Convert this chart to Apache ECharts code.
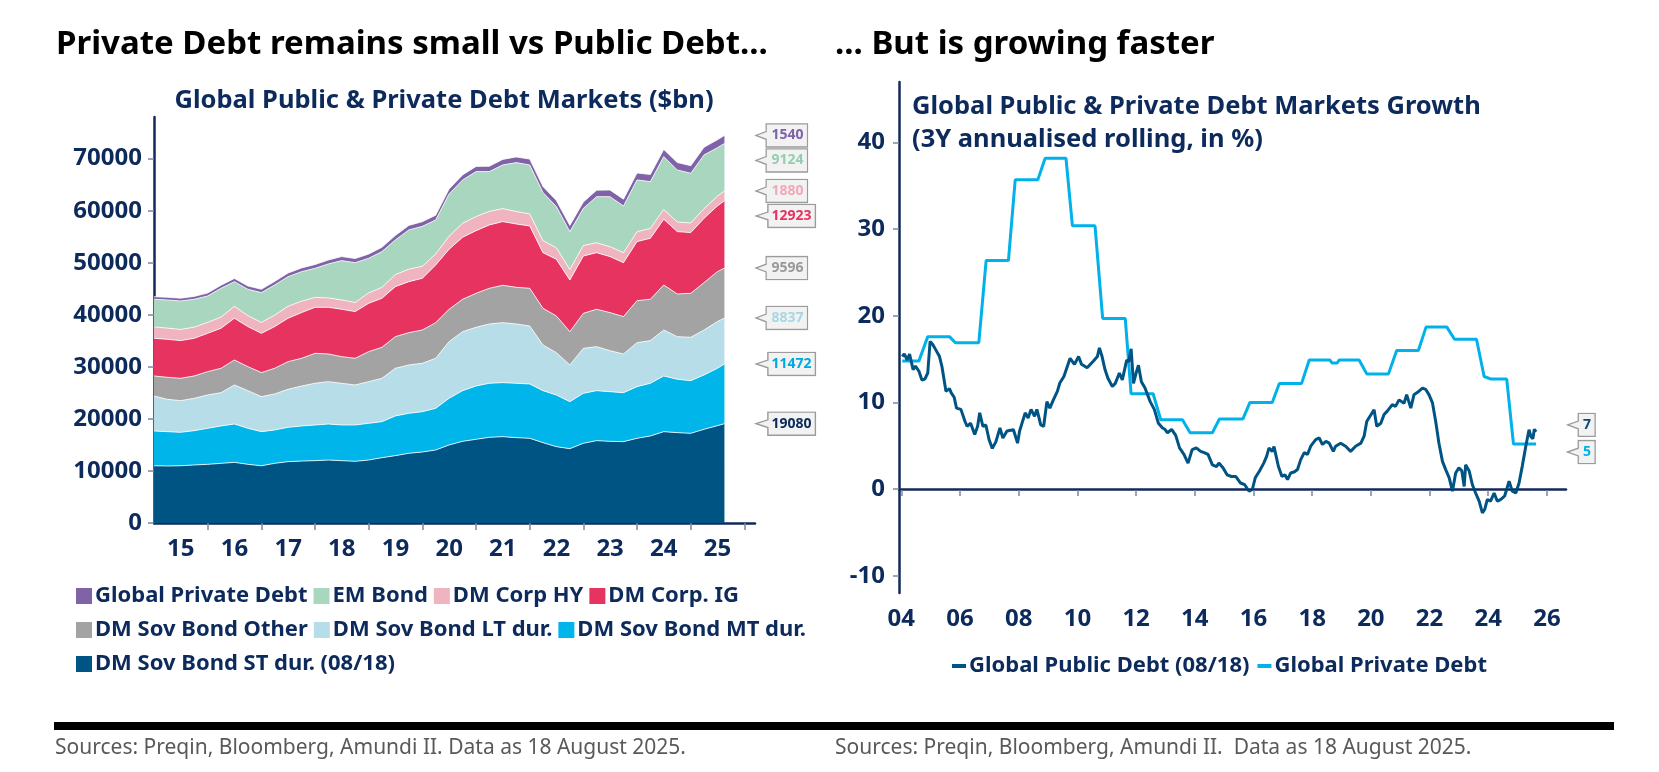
<!DOCTYPE html>
<html>
<head>
<meta charset="utf-8">
<title>Public vs Private Debt</title>
<script src="https://cdn.jsdelivr.net/npm/echarts@6/dist/echarts.min.js"></script>
<style>
html,body{margin:0;padding:0;background:#fff;}
#main{width:1659px;height:772px;}
</style>
</head>
<body>
<div id="main"></div>
<script>
// ---- left chart : stacked debt markets ($bn), quarterly read-off ----
var leftDates = ['2015-01-01','2015-04-01','2015-07-01','2015-10-01','2016-01-01','2016-04-01','2016-07-01','2016-10-01',
	'2017-01-01','2017-04-01','2017-07-01','2017-10-01','2018-01-01','2018-04-01','2018-07-01','2018-10-01',
	'2019-01-01','2019-04-01','2019-07-01','2019-10-01','2020-01-01','2020-04-01','2020-07-01','2020-10-01',
	'2021-01-01','2021-04-01','2021-07-01','2021-10-01','2022-01-01','2022-04-01','2022-07-01','2022-10-01',
	'2023-01-01','2023-04-01','2023-07-01','2023-10-01','2024-01-01','2024-04-01','2024-07-01','2024-10-01',
	'2025-01-01','2025-04-01','2025-07-01','2025-08-18'];
var sovST = [11000,10950,11000,11150, 11270,11460,11650,11270, 11000,11460,11790,11900, 11980,12100,11980,11850,
	12100,12550,12940,13390, 13640,14030,14990,15690, 16080,16460,16590,16400, 16270,15440,14670,14280,
	15310,15820,15690,15630, 16270,16720,17550,17360, 17230,18000,18700,19080];
var sovMT = [6680,6600,6420,6590, 6920,7180,7370,6920, 6550,6410,6590,6740, 6850,6920,6850,6980,
	7050,6920,7620,7680, 7750,8000,8960,9740, 10240,10380,10380,10440, 10440,9990,9920,9030,
	9600,9610,9540,9410, 9930,10120,10700,10250, 10120,10440,11020,11472];
var sovLT = [6720,6210,6090,6210, 6410,6400,7500,7240, 6730,6920,7300,7680, 8010,8140,8010,7690,
	8010,8330,9160,9290, 9290,9610,10890,11330, 11280,11400,11520,11400, 11140,8770,8140,7050,
	8650,8450,7880,7430, 8450,8200,8830,8190, 8330,8640,8970,8837];
var sovOther = [3850,4230,4290,4300, 4480,4680,4800,4610, 4610,4930,5320,5320, 5760,5310,5120,5120,
	5760,5950,6080,6210, 6400,6850,6220,6220, 6530,6850,7180,7040, 7240,7050,7050,6400,
	6730,7180,7310,7180, 8070,7940,8650,8200, 8450,9100,9600,9596];
var corpIG = [7230,7300,7240,7230, 7360,7690,8010,7690, 7550,8010,8330,8780, 8840,8970,9100,8970,
	9290,9420,9610,9800, 9930,11080,11520,11910, 12040,12170,12230,12170, 11980,10690,10880,9930,
	11010,10880,10760,10370, 11340,11720,12620,11980, 11660,12360,12620,12923];
var corpHY = [2200,2150,2150,2150, 2100,2150,2300,2100, 2100,2200,2300,2200, 1900,1800,1800,1750,
	2000,2100,2300,2400, 2300,2100,2500,2700, 2700,2600,2500,2400, 2300,2300,2200,2000,
	2000,1900,1900,1900, 1900,1900,1900,1850, 1850,1850,1870,1880];
var emBond = [5300,5410,5470,5350, 5080,5530,4740,5070, 5720,5800,5700,5670, 5590,6530,7550,7660,
	6650,6870,6670,7530, 7690,6550,8140,8320, 8640,7650,8390,9390, 9420,9260,7940,7290,
	7160,8860,9620,8990, 9950,8990,10140,10000, 9550,10320,9320,9124];
var privDebt = [500,515,530,550, 570,590,610,630, 650,670,690,710, 730,750,770,790,
	810,830,850,870, 890,910,940,970, 1000,1030,1060,1090, 1120,1140,1160,1180,
	1210,1240,1270,1300, 1330,1360,1390,1420, 1450,1480,1510,1540];

var leftYearTicks = [2016,2017,2018,2019,2020,2021,2022,2023,2024,2025,2026];
var leftYearPos = [2015.5,2016.5,2017.5,2018.5,2019.5,2020.5,2021.5,2022.5,2023.5,2024.5,2025.5];
var leftYearLabels = ['15','16','17','18','19','20','21','22','23','24','25'];
var leftYTicks = [0,10000,20000,30000,40000,50000,60000,70000];

// ---- right chart : 3Y annualised growth (%) ----
var pubX = [2004.03,2004.1,2004.2,2004.28,2004.4,2004.48,2004.6,2004.7,2004.8,2004.9,2004.98,2005.07,2005.17,2005.3,
	2005.38,2005.52,2005.64,2005.7,2005.8,2005.88,2006.03,2006.17,2006.24,2006.36,2006.5,2006.6,2006.67,2006.78,
	2006.88,2006.99,2007.1,2007.22,2007.36,2007.46,2007.6,2007.82,2007.96,2008.03,2008.22,2008.32,2008.42,2008.54,
	2008.62,2008.75,2008.85,2008.96,2009.06,2009.18,2009.32,2009.4,2009.54,2009.75,2009.9,2010.04,2010.14,2010.33,
	2010.54,2010.68,2010.75,2010.84,2010.94,2011.04,2011.19,2011.29,2011.43,2011.53,2011.68,2011.75,2011.83,2011.91,
	2012.0,2012.08,2012.18,2012.3,2012.48,2012.62,2012.76,2012.9,2012.98,2013.07,2013.21,2013.35,2013.48,2013.63,
	2013.77,2013.91,2014.05,2014.2,2014.32,2014.45,2014.6,2014.74,2014.82,2014.96,2015.1,2015.25,2015.4,2015.56,
	2015.7,2015.85,2015.96,2016.06,2016.2,2016.35,2016.45,2016.53,2016.64,2016.7,2016.85,2016.97,2017.07,2017.16,
	2017.27,2017.4,2017.5,2017.61,2017.73,2017.84,2017.95,2018.12,2018.24,2018.35,2018.47,2018.58,2018.72,2018.8,
	2018.97,2019.14,2019.31,2019.48,2019.66,2019.77,2019.86,2019.97,2020.11,2020.2,2020.34,2020.45,2020.56,2020.73,
	2020.84,2020.96,2021.13,2021.22,2021.36,2021.47,2021.64,2021.76,2021.87,2021.98,2022.1,2022.21,2022.32,2022.44,
	2022.55,2022.67,2022.78,2022.89,2023.0,2023.1,2023.18,2023.23,2023.35,2023.46,2023.57,2023.69,2023.8,2023.88,
	2023.97,2024.08,2024.2,2024.31,2024.43,2024.56,2024.71,2024.82,2024.94,2025.05,2025.16,2025.28,2025.39,2025.45,
	2025.52,2025.57,2025.63];
var pubY = [15.3,15.6,14.9,15.6,13.8,14.2,13.6,12.6,12.7,13.4,17.05,16.7,16.1,15.3,
	14.2,11.3,11.6,11.1,10.6,9.35,9.2,7.8,7.25,7.6,6.3,7.25,8.8,7.25,
	7.4,5.7,4.7,5.45,7.05,5.9,6.7,6.85,5.3,6.7,8.8,8.2,9.2,8.4,
	9.2,7.4,7.25,10.1,9.35,10.3,11.3,12.25,13.0,15.1,14.4,15.3,14.4,14.0,
	14.75,15.3,16.3,15.3,13.8,12.8,11.85,12.2,13.4,12.6,14.9,14.7,16.2,12.2,
	13.4,14.3,12.4,11.7,10.1,9.2,7.6,7.05,6.9,6.5,6.9,6.2,4.75,4.0,
	3.0,4.55,4.75,4.35,4.2,4.0,2.8,2.6,3.0,2.45,1.65,1.45,1.45,0.7,
	0.5,-0.25,-0.05,1.3,2.05,3.0,3.8,4.75,4.35,4.9,2.6,1.45,1.65,1.1,
	1.86,2.0,2.25,3.4,4.2,4.0,4.95,5.7,5.9,5.15,5.5,5.3,4.35,4.95,
	5.3,4.95,4.35,4.95,5.3,6.1,7.8,8.4,9.15,7.25,7.6,8.6,9.0,9.75,
	9.55,10.3,9.9,10.9,9.35,10.9,11.3,11.65,11.5,10.9,9.95,7.8,5.3,3.2,
	2.25,1.3,-0.25,1.86,2.45,2.1,0.3,2.8,2.1,0.5,-0.45,-1.4,-2.75,-2.35,
	-1.2,-1.4,-0.45,-1.4,-1.2,-0.8,0.9,-0.25,-0.45,0.7,2.65,4.95,6.85,6.1,
	5.8,6.9,6.6];
var privX = [2004.03,2004.6,2004.9,2005.64,2005.84,2006.64,2006.89,2007.65,2007.88,2008.65,2008.9,2009.61,
	2009.83,2010.6,2010.86,2011.63,2011.83,2012.58,2012.84,2013.58,2013.84,2014.6,2014.84,2015.64,
	2015.88,2016.64,2016.88,2017.64,2017.9,2018.6,2018.68,2018.85,2018.92,2019.6,2019.86,2020.6,
	2020.88,2021.62,2021.88,2022.59,2022.85,2023.6,2023.86,2024.1,2024.63,2024.86,2025.63];
var privY = [14.8,14.8,17.6,17.6,16.9,16.9,26.4,26.4,35.7,35.7,38.2,38.2,
	30.4,30.4,19.7,19.7,11.0,11.0,8.0,8.0,6.5,6.5,8.1,8.1,
	10.0,10.0,12.2,12.2,14.9,14.9,14.55,14.55,14.9,14.9,13.3,13.3,
	16.0,16.0,18.7,18.7,17.3,17.3,13.0,12.7,12.7,5.2,5.2];

var rightYearTicks = [2004,2006,2008,2010,2012,2014,2016,2018,2020,2022,2024,2026];
var rightYearLabels = ['04','06','08','10','12','14','16','18','20','22','24','26'];
var rightYTicks = [-10,0,10,20,30,40];

// ---- styling ----
var navy = '#0c2a5b';
var font = '"Noto Sans", "Open Sans", sans-serif';
var layers = [
	{name:'DM Sov Bond ST dur. (08/18)', data:sovST, color:'#005483', text:'#0c2a5b'},
	{name:'DM Sov Bond MT dur.', data:sovMT, color:'#00b5ea', text:'#00a8de'},
	{name:'DM Sov Bond LT dur.', data:sovLT, color:'#b7dde9', text:'#a9d6e6'},
	{name:'DM Sov Bond Other', data:sovOther, color:'#a3a3a3', text:'#9a9a9a'},
	{name:'DM Corp. IG', data:corpIG, color:'#e6335f', text:'#e6335f'},
	{name:'DM Corp HY', data:corpHY, color:'#f0b4c1', text:'#f0a9b8'},
	{name:'EM Bond', data:emBond, color:'#a9d6bf', text:'#96cdb1'},
	{name:'Global Private Debt', data:privDebt, color:'#7f62a8', text:'#7f62a8'}
];
var pubColor = '#005483', privColor = '#00b1ea';

function callout(w){
	var svg = '<svg xmlns="http://www.w3.org/2000/svg" width="'+w+'" height="26" viewBox="0 0 '+w+' 26" preserveAspectRatio="none">'+
		'<path d="M13 1 H'+(w-1)+' V25 H13 V17 L1.5 13 L13 9 Z" fill="#f2f2f2" stroke="#9b9b9b" stroke-width="1.4"/></svg>';
	return 'data:image/svg+xml;charset=utf-8,' + encodeURIComponent(svg);
}
var boxWide = callout(60), boxNarrow = callout(32);

function endLabel(textColor, img, fmt, offsetY){
	return {
		show: true,
		distance: 30,
		offset: [0, offsetY || 0],
		formatter: fmt,
		color: textColor,
		fontFamily: font,
		fontWeight: 'bold',
		fontSize: 14,
		lineHeight: 16,
		padding: [5, 5, 4, 17],
		backgroundColor: {image: img}
	};
}

var series = [];
layers.forEach(function(l){
	series.push({
		name: l.name,
		type: 'line',
		xAxisIndex: 0, yAxisIndex: 0,
		stack: 'total',
		showSymbol: false,
		symbol: 'none',
		color: l.color,
		lineStyle: {color: '#ffffff', width: 0.8},
		areaStyle: {color: l.color, opacity: 1},
		data: leftDates.map(function(d, i){ return [d, l.data[i]]; }),
		endLabel: endLabel(l.text, boxWide, function(p){ return p.value[1]; }),
		labelLayout: {moveOverlap: 'shiftY'},
		silent: true
	});
});

series.push({
	name: 'Global Private Debt ',
	type: 'line',
	xAxisIndex: 2, yAxisIndex: 1,
	showSymbol: false, symbol: 'none',
	color: privColor,
	lineStyle: {color: privColor, width: 3},
	data: privX.map(function(x, i){ return [x, privY[i]]; }),
	endLabel: endLabel(privColor, boxNarrow, function(p){ return Math.round(p.value[1]); }, 8),
	z: 3
});
series.push({
	name: 'Global Public Debt (08/18)',
	type: 'line',
	xAxisIndex: 2, yAxisIndex: 1,
	showSymbol: false, symbol: 'none',
	color: pubColor,
	lineStyle: {color: pubColor, width: 3},
	data: pubX.map(function(x, i){ return [x, pubY[i]]; }),
	endLabel: endLabel('#0c4a78', boxNarrow, function(p){ return Math.round(p.value[1]); }, -7),
	markLine: {
		silent: true,
		symbol: ['none', 'none'],
		label: {show: false},
		lineStyle: {color: navy, width: 1, type: 'solid'},
		data: [{yAxis: 0}]
	},
	z: 4
});

var legendText = {color: navy, fontFamily: font, fontWeight: 'bold', fontSize: 22, padding: [0, 0, 0, -2]};

function legendRow(names, top){
	return {
		left: 71, top: top,
		orient: 'horizontal',
		icon: 'rect',
		itemWidth: 16, itemHeight: 16, itemGap: 6,
		selectedMode: false,
		textStyle: legendText,
		data: names.map(function(n){
			var l = layers.filter(function(x){ return x.name === n; })[0];
			return {name: n, itemStyle: {color: l.color}};
		})
	};
}

var axisLineStyle = {color: '#14295a', width: 2.5};
var tickStyle = {color: '#7a88a6', width: 1.5};
var labelStyle = {color: navy, fontFamily: font, fontWeight: 'bold', fontSize: 24};

var option = {
	animation: false,
	backgroundColor: '#ffffff',
	title: [
		{text: 'Private Debt remains small vs Public Debt...', left: 51, top: 23,
			textStyle: {color: '#000', fontFamily: font, fontWeight: 'bold', fontSize: 33}},
		{text: '... But is growing faster', left: 830, top: 23,
			textStyle: {color: '#000', fontFamily: font, fontWeight: 'bold', fontSize: 33}},
		{text: 'Global Public & Private Debt Markets ($bn)', left: 439, top: 83, textAlign: 'center',
			textStyle: {color: navy, fontFamily: font, fontWeight: 'bold', fontSize: 25.5}},
		{text: 'Global Public & Private Debt Markets Growth\n(3Y annualised rolling, in %)', left: 907, top: 85,
			textStyle: {color: navy, fontFamily: font, fontWeight: 'bold', fontSize: 25.5, lineHeight: 33}}
	],
	legend: [
		legendRow(['Global Private Debt', 'EM Bond', 'DM Corp HY', 'DM Corp. IG'], 580),
		legendRow(['DM Sov Bond Other', 'DM Sov Bond LT dur.', 'DM Sov Bond MT dur.'], 614),
		legendRow(['DM Sov Bond ST dur. (08/18)'], 648),
		{
			left: 947, top: 650,
			icon: 'rect',
			itemWidth: 14, itemHeight: 4, itemGap: 8,
			selectedMode: false,
			textStyle: legendText,
			data: [
				{name: 'Global Public Debt (08/18)', itemStyle: {color: pubColor}},
				{name: 'Global Private Debt ', itemStyle: {color: privColor}}
			]
		}
	],
	grid: [
		{left: 154, top: 117, width: 601, height: 406},
		{left: 899, top: 82, width: 667, height: 511}
	],
	xAxis: [
		{
			// time axis carrying the stacked areas (kept hidden)
			type: 'time', gridIndex: 0, position: 'top', min: '2015-01-01', max: '2026-03-14', show: false
		},
		{
			// same span in decimal years, only for the drawn axis, ticks and mid-year labels
			type: 'value', gridIndex: 0, position: 'bottom', min: 2015, max: 2026.2,
			axisLine: {lineStyle: axisLineStyle},
			axisTick: {show: true, length: 7, lineStyle: tickStyle, customValues: leftYearTicks},
			axisLabel: Object.assign({}, labelStyle, {
				margin: 14,
				customValues: leftYearPos,
				formatter: function(v){ return leftYearLabels[leftYearPos.indexOf(v)]; }
			}),
			splitLine: {show: false}
		},
		{
			type: 'value', gridIndex: 1, position: 'bottom', min: 2003.92, max: 2026.65,
			axisLine: {lineStyle: axisLineStyle},
			axisTick: {show: true, length: 7, lineStyle: tickStyle, customValues: rightYearTicks},
			axisLabel: Object.assign({}, labelStyle, {
				margin: 14,
				customValues: rightYearTicks,
				formatter: function(v){ return rightYearLabels[rightYearTicks.indexOf(Math.round(v))]; }
			}),
			splitLine: {show: false}
		}
	],
	yAxis: [
		{
			type: 'value', gridIndex: 0, min: 0, max: 78000,
			axisLine: {show: true, lineStyle: axisLineStyle},
			axisTick: {show: true, length: 6, lineStyle: tickStyle, customValues: leftYTicks},
			axisLabel: Object.assign({}, labelStyle, {margin: 12, customValues: leftYTicks,
				formatter: function(v){ return String(v); }}),
			splitLine: {show: false}
		},
		{
			type: 'value', gridIndex: 1, min: -12, max: 47,
			axisLine: {show: true, lineStyle: axisLineStyle},
			axisTick: {show: true, length: 6, lineStyle: tickStyle, customValues: rightYTicks},
			axisLabel: Object.assign({}, labelStyle, {margin: 14, customValues: rightYTicks}),
			splitLine: {show: false}
		}
	],
	graphic: [
		{type: 'rect', left: 54, top: 722, shape: {width: 1560, height: 8}, style: {fill: '#000'}},
		{type: 'text', left: 55, top: 738,
			style: {text: 'Sources: Preqin, Bloomberg, Amundi II. Data as 18 August 2025.', fill: '#595959',
				font: '21px "Noto Sans", sans-serif'}},
		{type: 'text', left: 835, top: 738,
			style: {text: 'Sources: Preqin, Bloomberg, Amundi II.  Data as 18 August 2025.', fill: '#595959',
				font: '21px "Noto Sans", sans-serif'}}
	],
	series: series
};

var myChart = echarts.init(document.getElementById('main'));
myChart.setOption(option);
</script>
</body>
</html>
